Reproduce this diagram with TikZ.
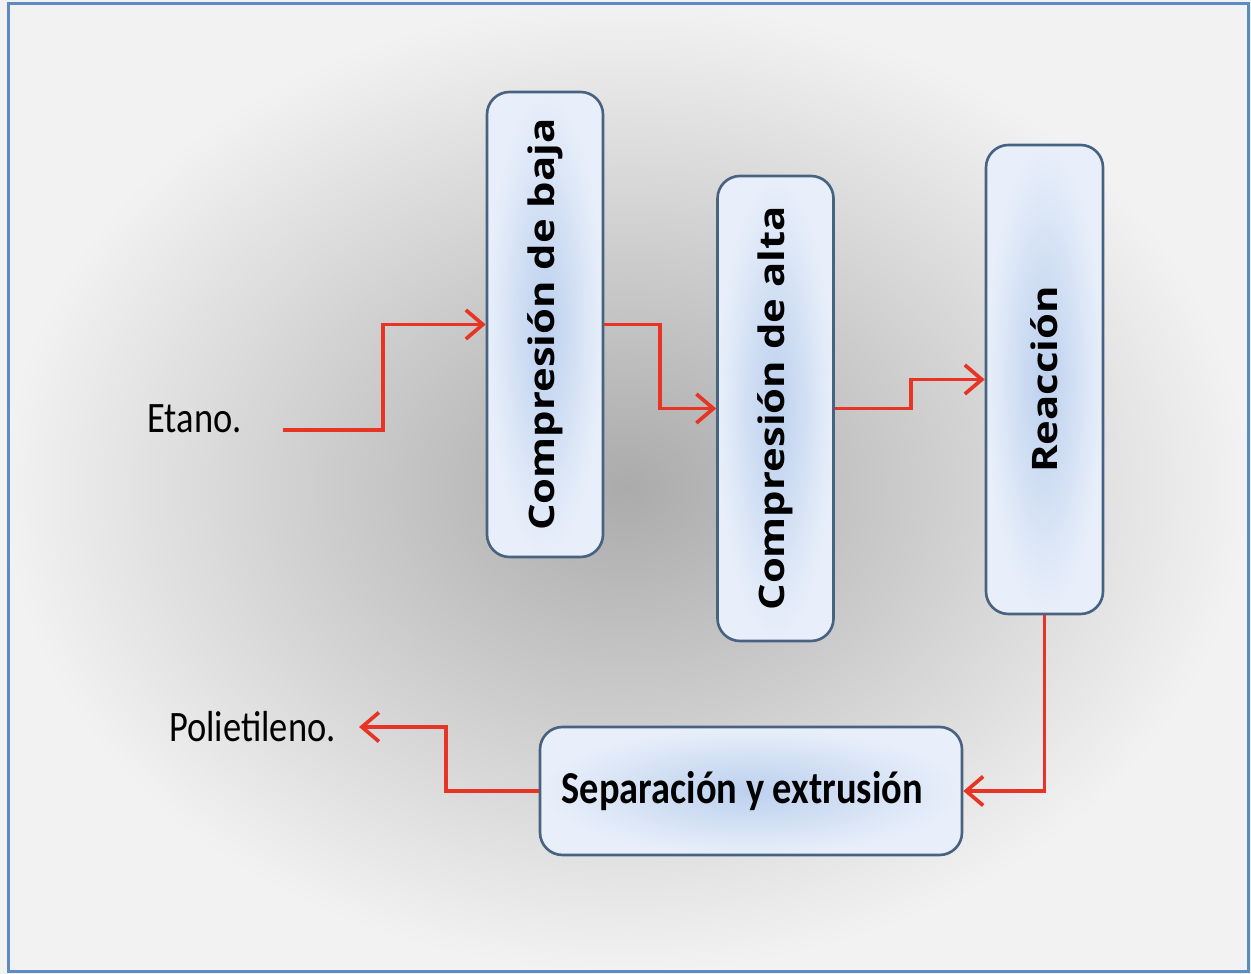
\documentclass[tikz,border=0pt]{standalone}
\usepackage{fontspec}
\setmainfont[FakeStretch=0.84]{Carlito}
\newfontfamily\boxfont{Open Sans}
\usepackage{graphicx}
\usetikzlibrary{positioning,arrows.meta}
\tikzset{>={Straight Barb[length=3.4mm,width=5.8mm]}}

\definecolor{flowred}{RGB}{232,52,36}
\definecolor{boxline}{RGB}{72,98,130}
\definecolor{boxin}{RGB}{188,208,238}
\definecolor{boxout}{RGB}{232,239,250}
\definecolor{framecol}{RGB}{92,140,194}

\newcommand{\vtext}[1]{\rotatebox{90}{\scalebox{1}[0.84]{#1}}}

\begin{document}
\begin{tikzpicture}[
	vbox/.style = {% vertical process boxes
		draw=boxline, line width=1.5pt, rounded corners=0.45cm,
		inner color=boxin, outer color=boxout,
		minimum width=2.32cm, minimum height=9.3cm,
		font=\boxfont\bfseries\fontsize{23.8}{28}\selectfont,},
	hbox/.style = {% horizontal process box
		draw=boxline, line width=1.5pt, rounded corners=0.45cm,
		inner color=boxin, outer color=boxout,
		minimum width=8.44cm, minimum height=2.56cm,
		font=\bfseries\fontsize{26}{30}\selectfont,},
	lbl/.style = {% stream labels
		inner sep=0pt, font=\fontsize{24.7}{28}\selectfont,},
	flow/.style = {% red streams
		->, draw=flowred, line width=2.1pt,},
	]
	
	% background
	\useasboundingbox (0,0) rectangle (25.02,19.48);
	\shade[inner color=black!33, outer color=black!5] (0,0) rectangle (25.02,19.48);
	\draw[framecol, line width=0.06cm] (0.16,0.04) rectangle (24.96,19.40);
	
	% boxes
	\node[vbox] (baja) at (10.90,12.99) {\vtext{Compresión de baja}};
	\node[vbox] (alta) at (15.51,11.31) {\vtext{Compresión de alta}};
	\node[vbox, minimum width=2.34cm, minimum height=9.38cm] (reac) at (20.89,11.89) {\vtext{Reacción}};
	\node[hbox] (sep) at (15.02,3.66) {\hspace*{-0.35cm}Separación y extrusión};
	
	% labels
	\node[lbl] (etano) at (3.89,11.10) {Etano.};
	\node[lbl] (poli) at (5.05,4.94) {Polietileno.};
	\coordinate (etano-out) at (5.66,10.88);
	
	% streams
	\draw[flow] (etano-out) -- ++(2,0) |- (baja.west);
	\draw[flow] (baja.east) -- ++(1.12,0) |- (alta.west);
	\draw[flow] (alta.east) -- ++(1.52,0) |- (reac.west);
	\draw[flow] (reac.south) |- (sep.east);
	\draw[flow] (sep.west) -- ++(-1.86,0) |- ([xshift=0.46cm]poli.east);

\end{tikzpicture}
\end{document}
